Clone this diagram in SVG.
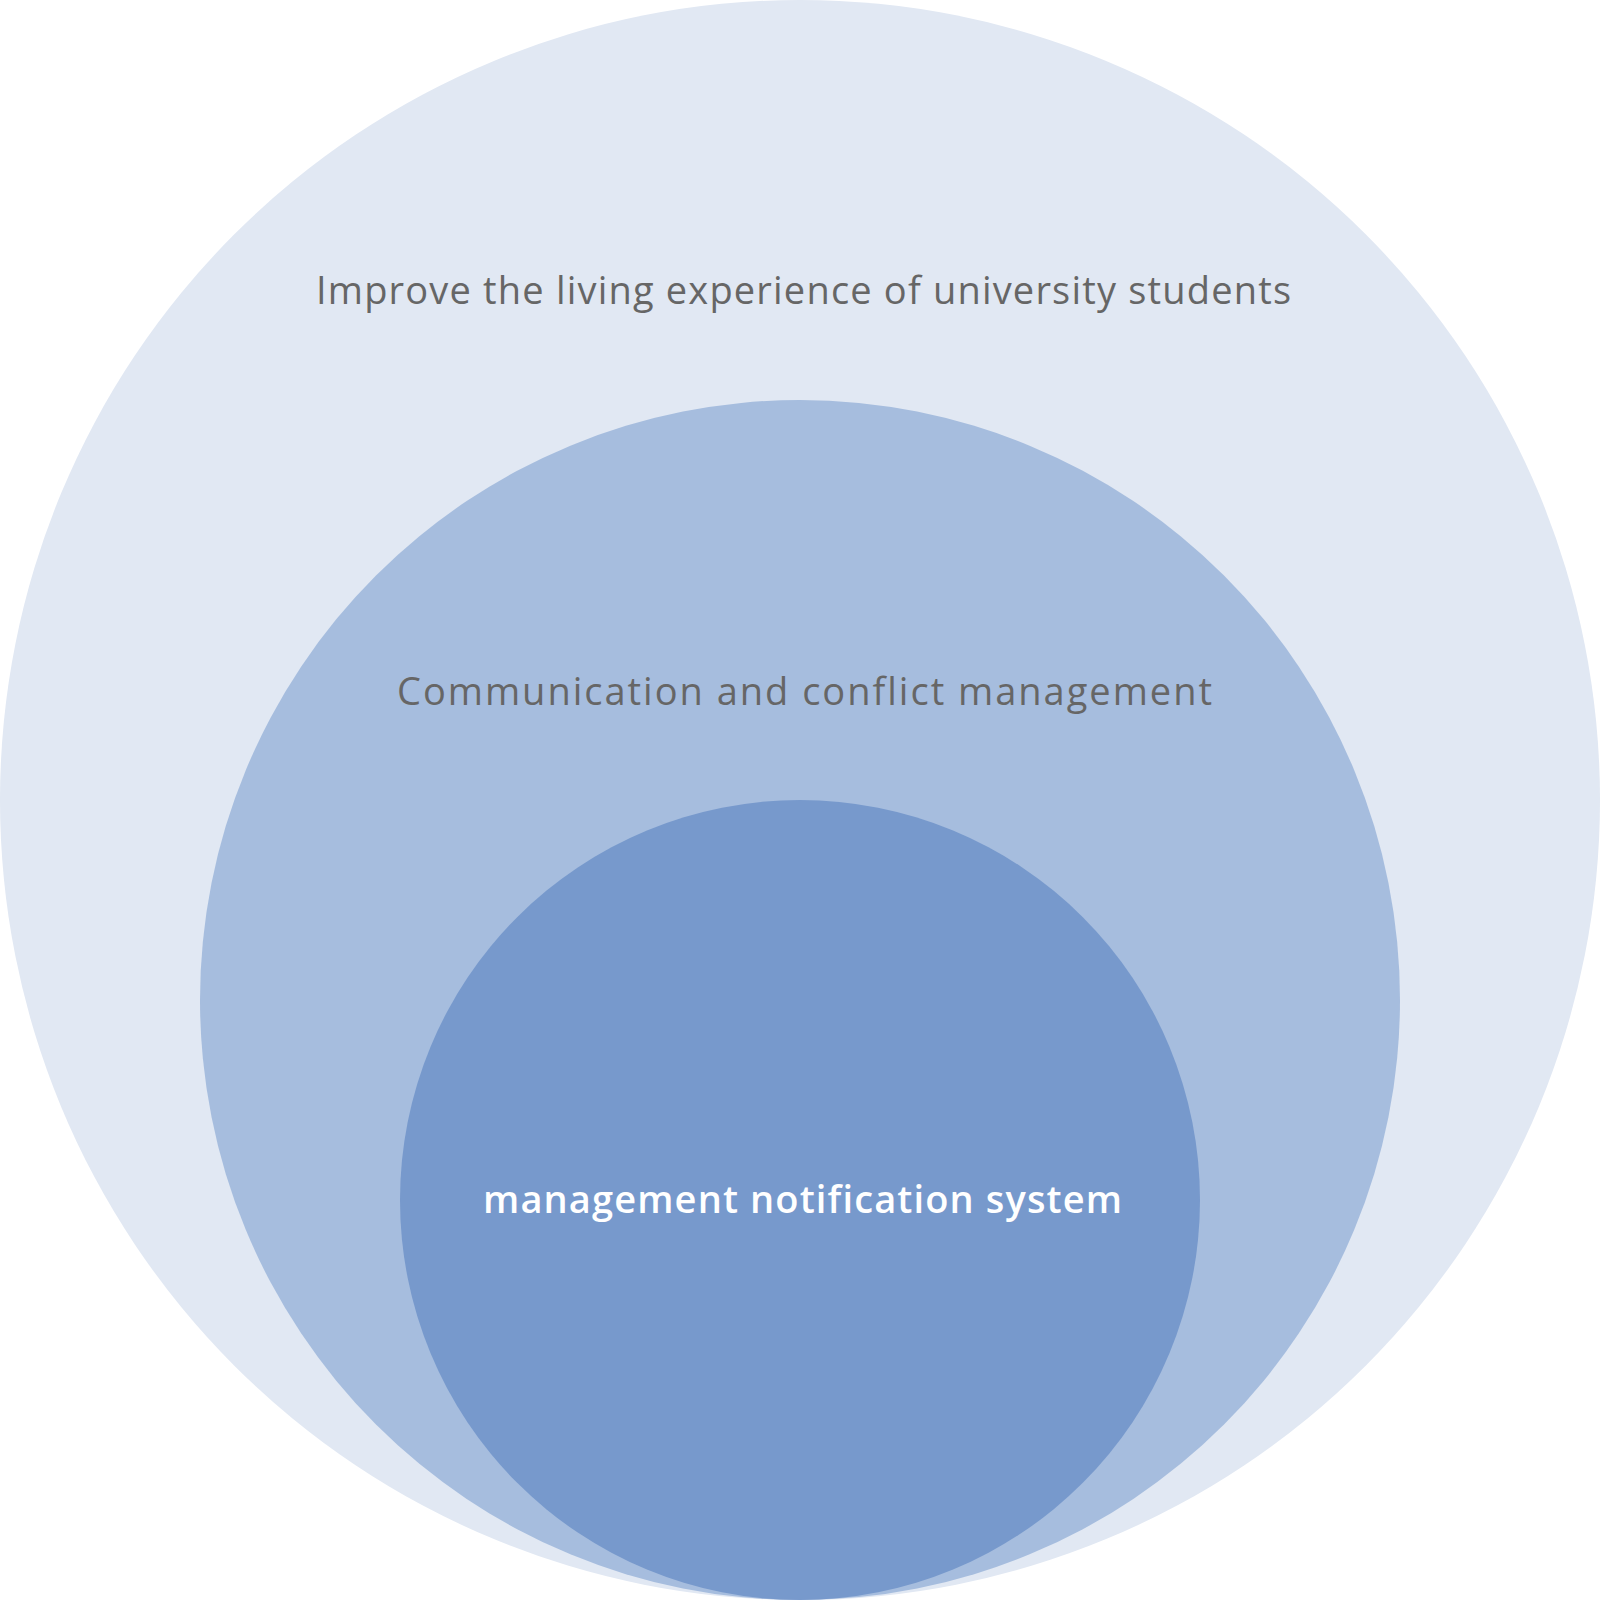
<svg xmlns="http://www.w3.org/2000/svg" width="1600" height="1600" viewBox="0 0 1600 1600">
<style>
.t{font-family:"Open Sans","Liberation Sans",sans-serif;font-size:38px;fill:#666666;letter-spacing:1px}
.w{font-family:"Open Sans","Liberation Sans",sans-serif;font-size:38px;fill:#ffffff;font-weight:600;letter-spacing:1px}
</style>
<rect width="1600" height="1600" fill="#ffffff"/>
<g id="outer"><circle cx="800" cy="800" r="800" fill="#E1E8F3"/><text class="t" x="316" y="304" textLength="976" lengthAdjust="spacing">Improve the living experience of university students</text></g>
<g id="middle"><circle cx="800" cy="1000" r="600" fill="#A6BDDE"/><text class="t" x="397" y="705" textLength="816" lengthAdjust="spacing">Communication and conflict management</text></g>
<g id="inner"><circle cx="800" cy="1200" r="400" fill="#7799CC"/><text class="w" x="483" y="1213" textLength="640" lengthAdjust="spacing">management notification system</text></g>
<g id="connectors"/>
</svg>
